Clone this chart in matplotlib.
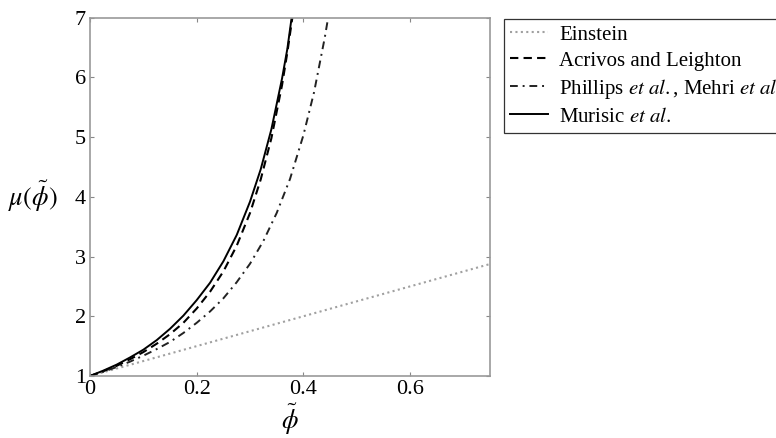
import matplotlib
matplotlib.use("Agg")
import matplotlib.pyplot as plt

plt.rcParams["font.family"] = ["Liberation Serif", "DejaVu Serif"]
plt.rcParams["mathtext.fontset"] = "stix"

# viscosity curves mu(phi)
phi_einstein = [0.0, 0.75]
mu_einstein = [1.0, 2.875]

phi_acrivos = [0.0, 0.025, 0.05, 0.075, 0.1, 0.125, 0.15, 0.175, 0.2, 0.225,
               0.25, 0.275, 0.3, 0.32, 0.34, 0.36, 0.37, 0.38]
mu_acrivos = [1.0, 1.08, 1.17, 1.28, 1.40, 1.54, 1.70, 1.89, 2.13, 2.41,
              2.75, 3.18, 3.73, 4.29, 4.98, 5.87, 6.42, 7.04]

phi_phillips = [0.0, 0.025, 0.05, 0.075, 0.1, 0.125, 0.15, 0.175, 0.2, 0.225,
                0.25, 0.275, 0.3, 0.325, 0.35, 0.375, 0.4, 0.42, 0.44, 0.447]
mu_phillips = [1.0, 1.07, 1.15, 1.24, 1.34, 1.45, 1.57, 1.72, 1.89, 2.08,
               2.30, 2.57, 2.88, 3.26, 3.73, 4.30, 5.03, 5.75, 6.66, 7.03]

phi_murisic = [0.0, 0.025, 0.05, 0.075, 0.1, 0.125, 0.15, 0.175, 0.2, 0.225,
               0.25, 0.275, 0.3, 0.32, 0.34, 0.36, 0.37, 0.378]
mu_murisic = [1.0, 1.09, 1.19, 1.31, 1.44, 1.60, 1.79, 2.01, 2.27, 2.56,
              2.92, 3.36, 3.92, 4.46, 5.13, 5.98, 6.48, 7.0]

x_ticks = [0, 0.2, 0.4, 0.6]
x_tick_labels = ["0", "0.2", "0.4", "0.6"]
y_ticks = [1, 2, 3, 4, 5, 6, 7]

fig = plt.figure(figsize=(7.76, 4.38), dpi=100)
ax = fig.add_axes([0.116, 0.1416, 0.5155, 0.818])

ax.plot(phi_einstein, mu_einstein, color="#a0a0a0", linestyle=(0, (1, 1.6)),
        lw=1.5, label="Einstein")
ax.plot(phi_acrivos, mu_acrivos, color="black", linestyle=(0, (4, 2.5)),
        lw=1.5, label="Acrivos and Leighton")
ax.plot(phi_phillips, mu_phillips, color="#222222", linestyle=(0, (4, 2.5, 1, 2.5)),
        lw=1.4, label=r"Phillips $\mathit{et\ al.}$, Mehri $\mathit{et\ al.}$")
ax.plot(phi_murisic, mu_murisic, color="black", linestyle="-",
        lw=1.4, label=r"Murisic $\mathit{et\ al.}$")

ax.set_xlim(0, 0.75)
ax.set_ylim(1, 7)
ax.set_xticks(x_ticks)
ax.set_xticklabels(x_tick_labels)
ax.set_yticks(y_ticks)
ax.tick_params(direction="in", length=3, color="#888888", labelsize=16,
               top=True, right=True, pad=3)
for s in ax.spines.values():
    s.set_color("#999999")
    s.set_linewidth(1.2)

ax.set_xlabel(r"$\tilde{\phi}$", fontsize=19, labelpad=2)
ax.set_ylabel(r"$\mu(\tilde{\phi})$", fontsize=19, rotation=0, labelpad=30, va="center")

leg = fig.legend(loc="upper left", bbox_to_anchor=(0.6495, 0.957), fontsize=15,
                 frameon=True, fancybox=False, edgecolor="black", borderaxespad=0,
                 handlelength=1.8, handletextpad=0.55, labelspacing=0.3, borderpad=0.3)
leg.get_frame().set_linewidth(0.9)

fig.savefig("out.png", dpi=100)
